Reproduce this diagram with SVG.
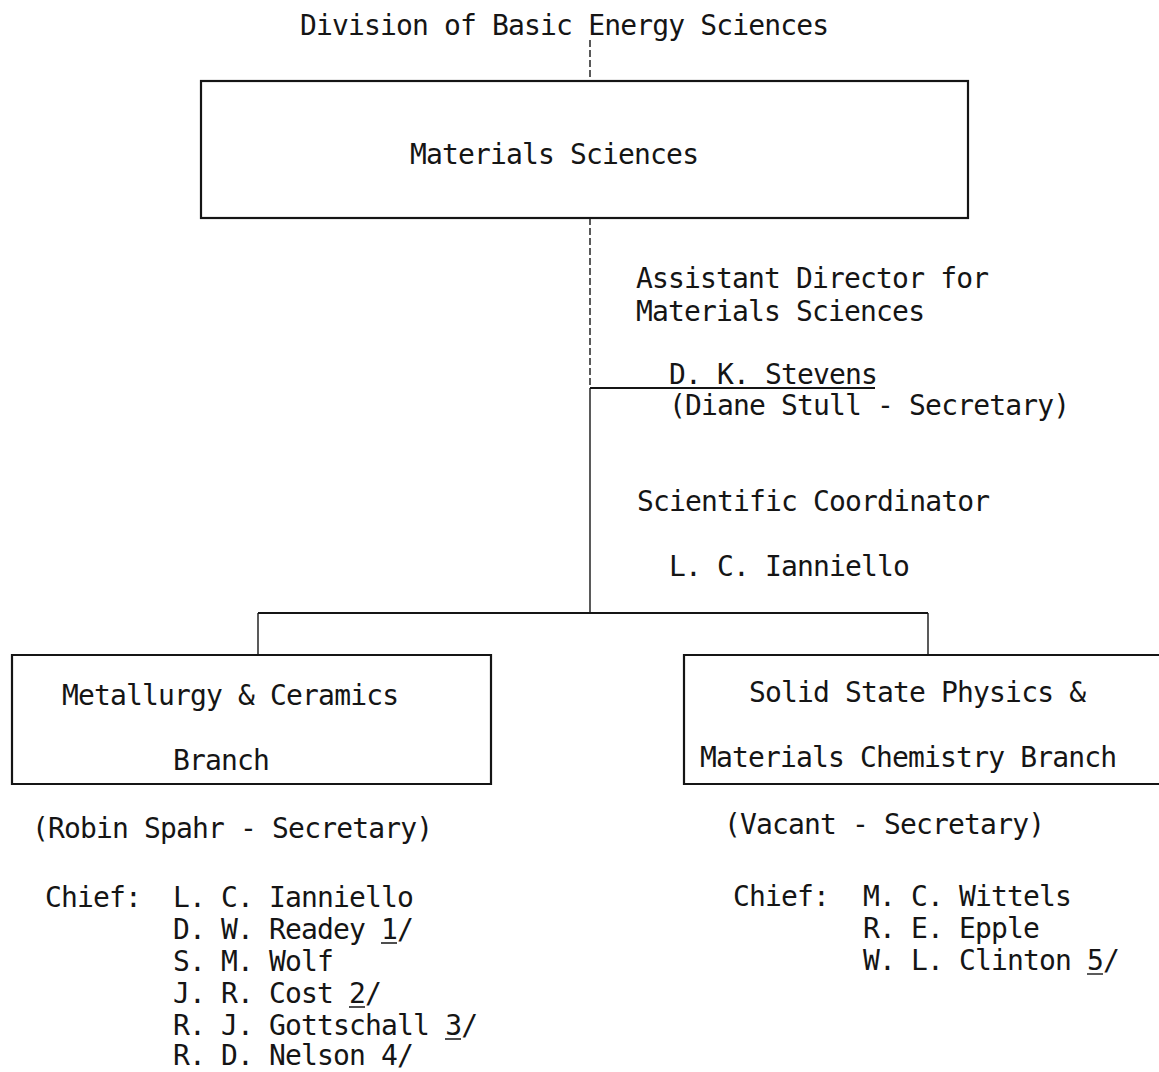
<svg xmlns="http://www.w3.org/2000/svg" width="1159" height="1072" viewBox="0 0 1159 1072">
<style>
text{font-family:"DejaVu Sans Mono","Liberation Mono",monospace;font-size:28px;letter-spacing:-0.85px;fill:#151515}
.box{fill:none;stroke:#151515;stroke-width:2.2}
.ln{fill:none;stroke:#151515;stroke-width:2}
.thin{fill:none;stroke:#151515;stroke-width:1.4}
.dash{fill:none;stroke:#151515;stroke-width:1.4;stroke-dasharray:7 3}
</style>
<rect width="1159" height="1072" fill="#ffffff"/>
<g id="connectors">
<path class="dash" d="M590 40 V80"/>
<path class="dash" d="M590 218 V388"/>
<path class="thin" d="M590 388 V613"/>
<path class="ln" d="M590 388 H875"/>
<path class="ln" d="M258 613 H928"/>
<path class="thin" d="M258 613 V655"/>
<path class="thin" d="M928 613 V655"/>
</g>
<g id="division">
<text x="300" y="35">Division of Basic Energy Sciences</text>
</g>
<g id="materials-sciences">
<rect class="box" x="201" y="81" width="767" height="137"/>
<text x="410" y="164">Materials Sciences</text>
</g>
<g id="assistant-director">
<text x="636" y="288">Assistant Director for</text>
<text x="636" y="321">Materials Sciences</text>
<text x="669" y="384">D. K. Stevens</text>
<text x="669" y="415">(Diane Stull - Secretary)</text>
</g>
<g id="scientific-coordinator">
<text x="637" y="511">Scientific Coordinator</text>
<text x="669" y="576">L. C. Ianniello</text>
</g>
<g id="metallurgy-branch">
<path class="box" d="M491 655 H12 V784 H491 Z"/>
<text x="62" y="705">Metallurgy &amp; Ceramics</text>
<text x="173" y="770">Branch</text>
<text x="32" y="838">(Robin Spahr - Secretary)</text>
<text x="45" y="907">Chief:</text>
<text x="173" y="907">L. C. Ianniello</text>
<text x="173" y="939">D. W. Readey 1/</text>
<text x="173" y="971">S. M. Wolf</text>
<text x="173" y="1003">J. R. Cost 2/</text>
<text x="173" y="1035">R. J. Gottschall 3/</text>
<text x="173" y="1065">R. D. Nelson 4/</text>
<path class="thin" d="M381 943 H397 M349 1007 H365 M445 1039 H461"/>
</g>
<g id="solid-state-branch">
<path class="box" d="M1159 655 H684 V784 H1159"/>
<text x="749" y="702">Solid State Physics &amp;</text>
<text x="700" y="767">Materials Chemistry Branch</text>
<text x="724" y="834">(Vacant - Secretary)</text>
<text x="733" y="906">Chief:</text>
<text x="863" y="906">M. C. Wittels</text>
<text x="863" y="938">R. E. Epple</text>
<text x="863" y="970">W. L. Clinton 5/</text>
<path class="thin" d="M1087 974 H1103"/>
</g>
</svg>
